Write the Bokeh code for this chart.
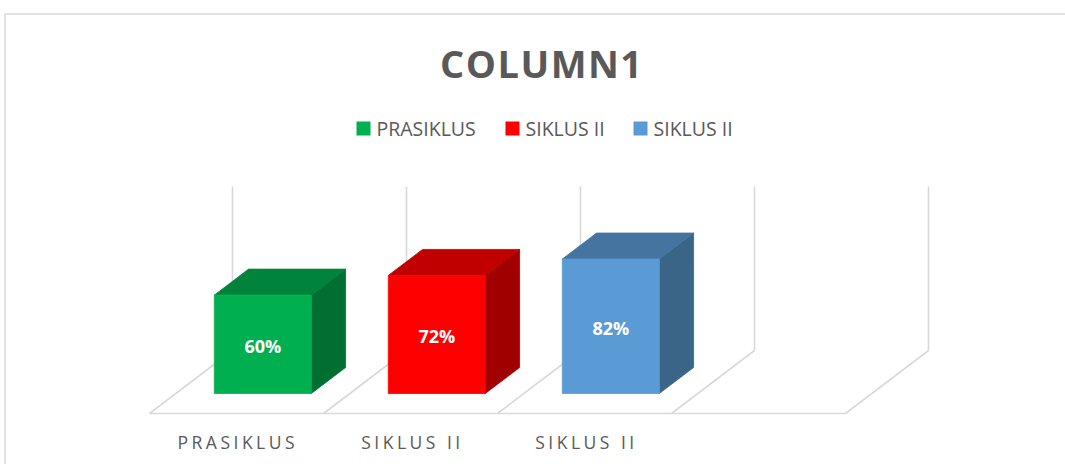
from bokeh.plotting import figure
from bokeh.models import Range1d
from bokeh.embed import file_html
from bokeh.resources import INLINE
from bokeh.core.properties import value

# ---------------- data ----------------
categories = ["PRASIKLUS", "SIKLUS II", "SIKLUS II"]
values = [60, 72, 82]
value_labels = ["60%", "72%", "82%"]
legend_names = ["PRASIKLUS", "SIKLUS II", "SIKLUS II"]
front_colors = ["#00B050", "#FF0000", "#5B9BD5"]
top_colors = ["#00843C", "#C00000", "#44749F"]
side_colors = ["#006F31", "#A00000", "#3A6587"]
title_text = "COLUMN1"
n_slots = 4          # category slots on the floor (last one empty)
axis_max = 100       # height of back wall in %

# ---------------- layout ----------------
W, H = 1065, 464
ORG = 0.0            # page offset of the figure
PX_PER_CAT = 174.0
PX_PER_PCT = 1.64
X0_PAGE = 149.0      # front-left floor corner, page px
Y0_PAGE = 413.0
DEPTH_DX = 83.0 / PX_PER_CAT
DEPTH_DY = 63.0 / PX_PER_PCT
D_FRONT, D_BACK = 0.317, 0.73
BAR_HALF = 97.0 / PX_PER_CAT / 2
CAT_LABEL_W = [118.0, 98.5, 98.5]   # spaced label widths (px)
GRID = "#D9D9D9"
TXT = "#595959"
FONT = value("Open Sans")


def xp(px):
    return (px - X0_PAGE) / PX_PER_CAT


def yp(py):
    return (Y0_PAGE - py) / PX_PER_PCT


def proj(x, y, d):
    return x + d * DEPTH_DX, y + d * DEPTH_DY


p = figure(width=W, height=H,
           x_range=Range1d(xp(ORG), xp(ORG + W)),
           y_range=Range1d(yp(ORG + H), yp(ORG)),
           output_backend="svg", toolbar_location=None,
           x_axis_location=None, y_axis_location=None,
           min_border=0, tools="")
p.grid.visible = False
p.outline_line_color = None
p.background_fill_color = "white"
p.border_fill_color = "white"

# chart border (top and left edges visible)
p.segment(x0=[xp(4.5), xp(4.5)], y0=[yp(13.5), yp(13.5)],
          x1=[xp(ORG + W + 5), xp(4.5)], y1=[yp(13.5), yp(ORG + H + 5)],
          line_color=GRID, line_width=1.5)

# back wall verticals and floor dividers
wx0, wy0, wx1, wy1 = [], [], [], []
for k in range(n_slots + 1):
    a = proj(k, 0, 1)
    b = proj(k, axis_max, 1)
    wx0.append(a[0]); wy0.append(a[1]); wx1.append(b[0]); wy1.append(b[1])
    c = proj(k, 0, 0)
    wx0.append(c[0]); wy0.append(c[1]); wx1.append(a[0]); wy1.append(a[1])
f0 = proj(0, 0, 0)
f1 = proj(n_slots, 0, 0)
wx0.append(f0[0]); wy0.append(f0[1]); wx1.append(f1[0]); wy1.append(f1[1])
p.segment(x0=wx0, y0=wy0, x1=wx1, y1=wy1, line_color=GRID, line_width=1.6)

# bars
for i, v in enumerate(values):
    c = i + 0.5
    xl, xr = c - BAR_HALF, c + BAR_HALF
    front = [proj(xl, 0, D_FRONT), proj(xr, 0, D_FRONT), proj(xr, v, D_FRONT), proj(xl, v, D_FRONT)]
    top = [proj(xl, v, D_FRONT), proj(xr, v, D_FRONT), proj(xr, v, D_BACK), proj(xl, v, D_BACK)]
    side = [proj(xr, 0, D_FRONT), proj(xr, 0, D_BACK), proj(xr, v, D_BACK), proj(xr, v, D_FRONT)]
    for face, col in ((side, side_colors[i]), (top, top_colors[i]), (front, front_colors[i])):
        p.patch([q[0] for q in face], [q[1] for q in face],
                fill_color=col, line_color=col, line_width=0.8)
    lx, ly = proj(c, v / 2, D_FRONT)
    p.text(x=[lx], y=[ly - 0.8], text=[value_labels[i]], text_color="white",
           text_font=FONT, text_font_style="bold", text_font_size="18px",
           text_align="center", text_baseline="middle")

# category labels (left aligned so that letter spacing grows to the right)
cx = [proj(i + 0.5, 0, 0)[0] - CAT_LABEL_W[i] / 2 / PX_PER_CAT for i in range(len(categories))]
p.text(x=cx, y=[yp(441)] * len(categories), text=categories, text_color=TXT,
       text_font=FONT, text_font_size="17.5px", text_align="left",
       text_baseline="middle")

# title
p.text(x=[xp(439.5)], y=[yp(62)], text=[title_text], text_color=TXT,
       text_font=FONT, text_font_style="bold", text_font_size="38px",
       text_align="left", text_baseline="middle")

# legend
sq_x = [363, 512, 640]
txt_x = [376, 525, 653]
p.rect(x=[xp(s) for s in sq_x], y=[yp(128)] * 3, width=14, height=14,
       width_units="screen", height_units="screen",
       fill_color=front_colors, line_color=None)
p.text(x=[xp(t) for t in txt_x], y=[yp(128)] * 3, text=legend_names,
       text_color=TXT, text_font=FONT, text_font_size="19.5px",
       text_align="left", text_baseline="middle")

html = file_html(p, INLINE)

# letter spacing for the spaced texts (category labels and title)
spacing_js = """
<script>
(function(){
  var css = 'text[font-size="17.5px"]{letter-spacing:3.5px}text[font-size="38px"]{letter-spacing:1.5px}';
  function fix(root){
    var texts = root.querySelectorAll('text');
    for (var j = 0; j < texts.length; j++){
      var el = texts[j];
      var fs = (el.getAttribute('font-size') || el.style.fontSize || '') + '';
      if (fs.indexOf('17.5') === 0) el.style.letterSpacing = '3.5px';
      else if (fs.indexOf('38') === 0) el.style.letterSpacing = '1.5px';
    }
    var els = root.querySelectorAll('*');
    for (var i = 0; i < els.length; i++){
      var sr = els[i].shadowRoot;
      if (sr){
        if (!sr.querySelector('style[data-ls]')){
          var s = document.createElement('style');
          s.setAttribute('data-ls', '1');
          s.textContent = css;
          sr.appendChild(s);
        }
        fix(sr);
      }
    }
  }
  var n = 0;
  var t = setInterval(function(){ fix(document); if (++n > 150) clearInterval(t); }, 20);
})();
</script>
"""
html = html.replace("</body>", spacing_js + "</body>")
open("out.html", "w").write(html)
